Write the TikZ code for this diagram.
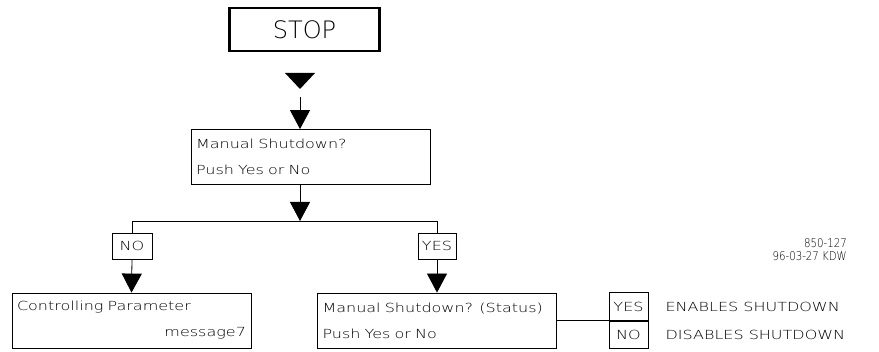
\documentclass[tikz,border=0pt]{standalone}
\usepackage{fontspec}
\newfontfamily\cadfont[FakeStretch=1.28]{DejaVu Sans ExtraLight}
\newfontfamily\cadplain{DejaVu Sans ExtraLight}
\newfontfamily\cadnarrow[FakeStretch=0.85]{DejaVu Sans ExtraLight}
\usepackage{tikz}
\usetikzlibrary{arrows.meta,positioning}

\begin{document}
\begin{tikzpicture}[x=1pt, y=-1pt,
  every node/.style={font=\cadfont\fontsize{12.5}{26}\selectfont, inner sep=0pt},
  msgbox/.style={draw, line width=0.8pt, minimum width=239pt, minimum height=55pt,
    text width=229pt, align=left},
  keybox/.style={draw, line width=0.8pt, minimum width=38pt, minimum height=26pt},
  flow/.style={-{Triangle[width=20pt,length=19pt]}, line width=0.8pt},
  wire/.style={line width=0.8pt},
]
\useasboundingbox (0,0) rectangle (879,352);
% stop header and entry marker
\node[draw, line width=2.5pt, minimum width=150pt, minimum height=43pt,
  font=\cadplain\fontsize{24}{24}\selectfont] (stop) at (304.5,29.5) {STOP};
\fill (285,73) -- (315,73) -- (300,89) -- cycle;
\coordinate (entry) at (300,97);
% question boxes
\node[msgbox] (ask) at (310.5,157) {Manual Shutdown?\\Push Yes or No};
\node[msgbox] (ctrl) at (131.5,320.5) {Controlling Parameter\\\hfill message7};
\node[msgbox] (status) at (437,320.5) {Manual Shutdown? (Status)\\Push Yes or No};
% branch keys
\coordinate (split) at (300,221);
\node[keybox, minimum width=40pt] (nokey) at (132,246) {NO};
\node[keybox] (yeskey) at (437,246) {YES};
\node[keybox, minimum width=39pt, minimum height=27.5pt] (kyes) at (628.5,306.5) {YES};
\node[keybox, minimum width=39pt, minimum height=27.5pt, below=0pt of kyes] (kno) {NO};
\node[anchor=west, right=17pt of kyes] (enable) {ENABLES SHUTDOWN};
\node[anchor=west, right=17pt of kno] (disable) {DISABLES SHUTDOWN};
\node[font=\cadnarrow\fontsize{12}{13}\selectfont, align=right, anchor=east] (ref)
  at (847,250) {850-127\\96-03-27 KDW};
% connectors
\draw[flow] (entry) -- (entry |- ask.north);
\draw[flow] (ask.south -| split) -- (split);
\draw[wire] (nokey.north) |- (yeskey.north |- split) -- (yeskey.north);
\draw[flow] (nokey.south) -- (ctrl.north);
\draw[flow] (yeskey.south) -- (status.north);
\draw[wire] (status.east) -- (status.east -| kyes.west);
\end{tikzpicture}
\end{document}
